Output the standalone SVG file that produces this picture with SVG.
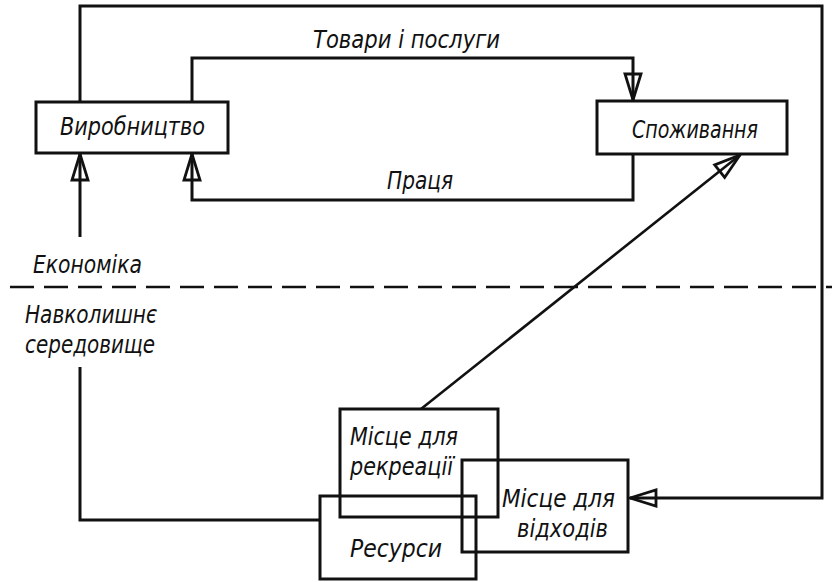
<svg xmlns="http://www.w3.org/2000/svg" width="832" height="582" viewBox="0 0 832 582">
<style>
  .box { fill: none; stroke: #111; stroke-width: 3; }
  .conn { fill: none; stroke: #111; stroke-width: 3; }
  .thin { fill: none; stroke: #111; stroke-width: 2.6; }
  .dash { fill: none; stroke: #111; stroke-width: 2.5; stroke-dasharray: 24 10; }
  .t { font-family: "Liberation Sans Narrow", "DejaVu Sans Condensed", "Liberation Sans", sans-serif; font-style: italic; font-size: 25px; fill: #111; }
</style>
<defs>
  <marker id="arr" markerUnits="userSpaceOnUse" viewBox="-30 -11 32 22" refX="0" refY="0" markerWidth="32" markerHeight="22" orient="auto">
    <path d="M0,0 L-26,-8 L-26,8 Z" fill="none" stroke="#111" stroke-width="2.8" stroke-linejoin="miter"/>
  </marker>
</defs>
<g id="connectors">
  <path class="conn" d="M192,102 V58 H633 V100" marker-end="url(#arr)"/>
  <path class="conn" d="M633,154 V200 H192 V154" marker-end="url(#arr)"/>
  <path class="conn" d="M80,102 V6 H822 V498 H630" marker-end="url(#arr)"/>
  <path class="conn" d="M320,520 H80 V367"/>
  <path class="conn" d="M80,237 V154" marker-end="url(#arr)"/>
  <path class="thin" d="M421,409 L740,155" marker-end="url(#arr)"/>
  <path class="dash" d="M10,287 H832"/>
</g>
<g id="vyrobnytstvo">
  <rect class="box" x="36" y="102" width="192" height="51"/>
  <text class="t" x="60" y="135" textLength="145" lengthAdjust="spacingAndGlyphs">Виробництво</text>
</g>
<g id="spozhyvannia">
  <rect class="box" x="597" y="101" width="190" height="53"/>
  <text class="t" x="632" y="138" textLength="126" lengthAdjust="spacingAndGlyphs">Споживання</text>
</g>
<g id="labels">
  <text class="t" x="313" y="48" textLength="187" lengthAdjust="spacingAndGlyphs">Товари і послуги</text>
  <text class="t" x="387" y="189" textLength="66" lengthAdjust="spacingAndGlyphs">Праця</text>
  <text class="t" x="33" y="273" textLength="109" lengthAdjust="spacingAndGlyphs">Економіка</text>
  <text class="t" x="25" y="323" textLength="132" lengthAdjust="spacingAndGlyphs">Навколишнє</text>
  <text class="t" x="25" y="353" textLength="130" lengthAdjust="spacingAndGlyphs">середовище</text>
</g>
<g id="mistse-rekreatsii">
  <rect class="box" x="340" y="409" width="158" height="108"/>
  <text class="t" x="350" y="445" textLength="108" lengthAdjust="spacingAndGlyphs">Місце для</text>
  <text class="t" x="350" y="475" textLength="103" lengthAdjust="spacingAndGlyphs">рекреації</text>
</g>
<g id="mistse-vidkhodiv">
  <rect class="box" x="462" y="460" width="166" height="92"/>
  <text class="t" x="502" y="507" textLength="113" lengthAdjust="spacingAndGlyphs">Місце для</text>
  <text class="t" x="517" y="537" textLength="91" lengthAdjust="spacingAndGlyphs">відходів</text>
</g>
<g id="resursy">
  <rect class="box" x="320" y="496" width="156" height="83"/>
  <text class="t" x="350" y="557" textLength="92" lengthAdjust="spacingAndGlyphs">Ресурси</text>
</g>
</svg>
